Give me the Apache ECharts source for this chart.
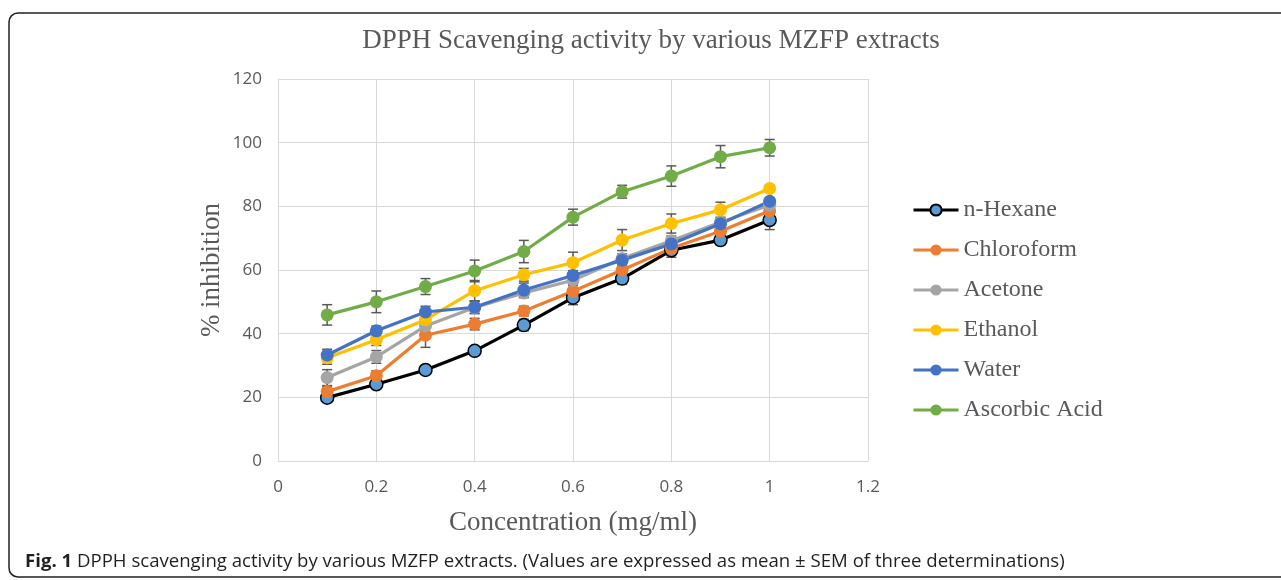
<!DOCTYPE html>
<html>
<head>
<meta charset="utf-8">
<script src="https://cdn.jsdelivr.net/npm/echarts@6/dist/echarts.min.js"></script>
<style>
  html, body { margin: 0; padding: 0; background: #fff; }
  #chart { width: 1281px; height: 580px; }
</style>
</head>
<body>
<div id="chart"></div>
<script>
// concentration (mg/ml)
const conc = [0.1, 0.2, 0.3, 0.4, 0.5, 0.6, 0.7, 0.8, 0.9, 1.0];

// % inhibition, mean values
const hexane     = [19.9, 24.1, 28.6, 34.6, 42.7, 51.3, 57.3, 66.2, 69.4, 75.7];
const chloroform = [21.8, 26.8, 39.5, 43.0, 47.1, 53.3, 60.0, 66.8, 72.2, 78.6];
const acetone    = [26.2, 32.7, 42.4, 48.2, 52.8, 56.8, 63.6, 69.2, 75.0, 80.4];
const ethanol    = [32.4, 38.1, 44.4, 53.5, 58.5, 62.3, 69.4, 74.6, 78.9, 85.6];
const water      = [33.3, 40.9, 46.8, 48.3, 53.7, 58.3, 63.1, 68.2, 74.5, 81.6];
const ascorbic   = [45.9, 50.0, 54.8, 59.7, 65.8, 76.6, 84.6, 89.5, 95.6, 98.4];

// SEM (error bars), estimated
const hexaneErr     = [1.5, 1.2, 1.2, 1.2, 1.8, 2.2, 1.8, 2.2, 1.5, 3.0];
const chloroformErr = [1.5, 1.5, 3.8, 1.8, 1.5, 1.8, 1.5, 1.5, 1.5, 1.5];
const acetoneErr    = [2.5, 2.0, 1.8, 1.8, 1.5, 1.5, 1.5, 1.5, 1.5, 1.5];
const ethanolErr    = [2.0, 1.8, 1.8, 3.2, 2.0, 3.3, 3.3, 3.0, 2.4, 1.0];
const waterErr      = [1.8, 1.5, 1.8, 2.0, 2.2, 1.5, 1.5, 1.5, 1.5, 1.0];
const ascorbicErr   = [3.2, 3.4, 2.5, 3.4, 3.5, 2.5, 2.0, 3.2, 3.5, 2.6];

const yTicks = [0, 20, 40, 60, 80, 100, 120];

const seriesDefs = [
  { name: 'n-Hexane',      data: hexane,     err: hexaneErr,     color: '#000000', fill: '#5b9bd5' },
  { name: 'Chloroform',    data: chloroform, err: chloroformErr, color: '#ed7d31' },
  { name: 'Acetone',       data: acetone,    err: acetoneErr,    color: '#a5a5a5' },
  { name: 'Ethanol',       data: ethanol,    err: ethanolErr,    color: '#ffc000' },
  { name: 'Water',         data: water,      err: waterErr,      color: '#4472c4' },
  { name: 'Ascorbic Acid', data: ascorbic,   err: ascorbicErr,   color: '#70ad47' }
];

const serif = '"Liberation Serif", "Times New Roman", serif';
const sans = '"Open Sans", sans-serif';
const grey = '#595959';

function errorBars(params, api) {
  const x = api.value(0);
  const top = api.coord([x, api.value(2)]);
  const bot = api.coord([x, api.value(1)]);
  const cap = 5;
  const style = { stroke: grey, lineWidth: 1.5 };
  return {
    type: 'group',
    children: [
      { type: 'line', shape: { x1: top[0], y1: top[1], x2: bot[0], y2: bot[1] }, style },
      { type: 'line', shape: { x1: top[0] - cap, y1: top[1], x2: top[0] + cap, y2: top[1] }, style },
      { type: 'line', shape: { x1: bot[0] - cap, y1: bot[1], x2: bot[0] + cap, y2: bot[1] }, style }
    ]
  };
}

const series = [];
seriesDefs.forEach((s) => {
  series.push({
    name: s.name,
    type: 'line',
    data: conc.map((x, i) => [x, s.data[i]]),
    symbol: 'circle',
    symbolSize: 13,
    lineStyle: { color: s.color, width: 3.2 },
    itemStyle: s.fill
      ? { color: s.fill, borderColor: s.color, borderWidth: 1.5 }
      : { color: s.color, borderWidth: 0 },
    emphasis: { disabled: true },
    animation: false
  });
  series.push({
    type: 'custom',
    renderItem: errorBars,
    data: conc.map((x, i) => [x, s.data[i] - s.err[i], s.data[i] + s.err[i]]),
    encode: { x: 0, y: [1, 2] },
    silent: true,
    animation: false
  });
});

const chart = echarts.init(document.getElementById('chart'));
chart.setOption({
  backgroundColor: '#fff',
  animation: false,
  title: {
    text: 'DPPH Scavenging activity by various MZFP extracts',
    left: 646,
    top: 22,
    textAlign: 'center',
    textStyle: { fontFamily: serif, fontSize: 27, fontWeight: 'normal', color: grey }
  },
  legend: {
    orient: 'vertical',
    left: 912,
    top: 196,
    padding: 0,
    itemWidth: 45,
    itemHeight: 14,
    itemGap: 12,
    data: seriesDefs.map((s) => s.name),
    lineStyle: { width: 3 },
    textStyle: { fontFamily: serif, fontSize: 24, color: grey, lineHeight: 28 }
  },
  grid: { left: 278, right: 413, top: 79, bottom: 119, containLabel: false },
  xAxis: {
    type: 'value',
    min: 0,
    max: 1.2,
    interval: 0.2,
    name: 'Concentration (mg/ml)',
    nameLocation: 'middle',
    nameGap: 48,
    nameTextStyle: { fontFamily: serif, fontSize: 27, color: grey },
    axisLine: { show: true, lineStyle: { color: '#d9d9d9', width: 1 } },
    axisTick: { show: false },
    axisLabel: { fontFamily: sans, fontSize: 17, color: grey, margin: 18 },
    splitLine: { show: true, lineStyle: { color: '#d9d9d9', width: 1 } }
  },
  yAxis: {
    type: 'value',
    min: yTicks[0],
    max: yTicks[yTicks.length - 1],
    interval: 20,
    name: '% inhibition',
    nameLocation: 'middle',
    nameGap: 53,
    nameTextStyle: { fontFamily: serif, fontSize: 27, color: grey },
    axisLine: { show: true, lineStyle: { color: '#d9d9d9', width: 1 } },
    axisTick: { show: false },
    axisLabel: { fontFamily: sans, fontSize: 17, color: grey, margin: 16 },
    splitLine: { show: true, lineStyle: { color: '#d9d9d9', width: 1 } }
  },
  graphic: [
    {
      type: 'rect',
      shape: { x: 9, y: 13, width: 1300, height: 564, r: 9 },
      style: { fill: null, stroke: '#231f20', lineWidth: 1.5 },
      silent: true
    },
    {
      type: 'text',
      left: 25,
      top: 552,
      style: {
        text: '{b|Fig. 1} DPPH scavenging activity by various MZFP extracts. (Values are expressed as mean \u00b1 SEM of three determinations)',
        font: '18.6px ' + sans,
        fill: '#231f20',
        rich: { b: { fontWeight: 'bold', fontFamily: sans, fontSize: 18.6, fill: '#231f20' } }
      }
    }
  ],
  series: series
});
</script>
</body>
</html>
